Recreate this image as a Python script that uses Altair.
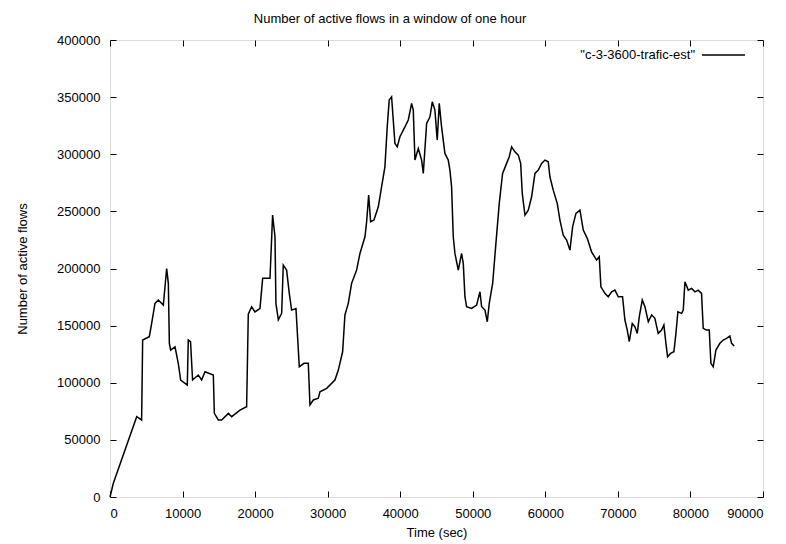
import altair as alt
import pandas as pd

chart_title = "Number of active flows in a window of one hour"
x_title = "Time (sec)"
y_title = "Number of active flows"
series_name = '"c-3-3600-trafic-est"'

x_ticks = [0, 10000, 20000, 30000, 40000, 50000, 60000, 70000, 80000, 90000]
y_ticks = [0, 50000, 100000, 150000, 200000, 250000, 300000, 350000, 400000]

time_sec = [0, 460, 3680, 4360, 4500, 5420, 5740, 6200, 6660, 7350, 7810, 8040, 8180, 8360,
            8960, 9410, 9740, 10650, 10790, 11100, 11380, 12170, 12630, 13090, 14240, 14380,
            14930, 15390, 16310, 16770, 17910, 18830, 19060, 19520, 19980, 20670, 21040,
            22050, 22410, 22740, 22870, 23200, 23660, 23880, 24340, 24710, 25030, 25630,
            26090, 26730, 27330, 27560, 28020, 28710, 28940, 29860, 31000, 31470, 32060,
            32380, 32840, 33300, 33990, 34450, 35140, 35370, 35650, 35920, 36380, 36980,
            37430, 37890, 38210, 38480, 38810, 39040, 39270, 39590, 39960, 40650, 41110,
            41570, 41800, 42030, 42490, 42950, 43180, 43640, 44100, 44420, 44780, 45100,
            45380, 45700, 46160, 46620, 46850, 47080, 47310, 47540, 48000, 48460, 48690,
            48920, 49150, 49840, 50530, 50990, 51220, 51680, 52000, 52270, 52740, 53190,
            53650, 54110, 54660, 55030, 55350, 55810, 56270, 56600, 56820, 57190, 57650,
            58110, 58570, 59030, 59490, 59950, 60400, 60630, 61090, 61640, 62010, 62470,
            62930, 63390, 63760, 64220, 64770, 65230, 65780, 66370, 67060, 67430, 67660,
            68210, 68670, 69130, 69590, 70050, 70640, 70970, 71290, 71570, 71980, 72350,
            72670, 72950, 73360, 73730, 74190, 74650, 75100, 75560, 76020, 76340, 76620,
            76850, 77260, 77720, 78000, 78270, 78780, 79010, 79240, 79700, 80160, 80620,
            81070, 81530, 81760, 82220, 82590, 82820, 83140, 83510, 84060, 84520, 84980,
            85440, 85670, 86030]

active_flows = [0, 12000, 70300, 67400, 137400, 140300, 152000, 169500, 172400, 168000, 200000,
                187000, 134500, 128600, 131500, 117000, 102400, 98000, 137400, 136000, 102400,
                106750, 102400, 109600, 106750, 73200, 67400, 67400, 73200, 70300, 76100, 79000,
                160000, 166500, 162000, 165000, 191400, 191400, 246700, 227800, 169500, 155000,
                160700, 203000, 198600, 178200, 163600, 165000, 114000, 117000, 117000, 80500,
                84900, 86400, 92100, 95100, 102400, 111100, 127100, 159300, 169500, 187000,
                198600, 213200, 227800, 240900, 264250, 240900, 242400, 254000, 271500, 289000,
                324000, 347400, 350300, 330000, 309500, 306500, 315300, 324000, 330000, 344500,
                338600, 294900, 305100, 294900, 283200, 327000, 332800, 345900, 338600, 312400,
                344500, 324000, 300700, 294900, 286100, 271500, 227800, 213200, 198600, 213200,
                204500, 175300, 166500, 165000, 168000, 179600, 166500, 163600, 153400, 169500,
                187000, 222000, 257000, 283200, 292000, 297800, 306500, 302100, 299200, 292000,
                265700, 246700, 251100, 262800, 283200, 286100, 292000, 294900, 293400, 280300,
                268600, 257000, 242400, 229250, 224900, 216100, 236500, 248200, 251100, 233600,
                226400, 214600, 207400, 210300, 184000, 178200, 175300, 179600, 181100, 175300,
                175300, 154900, 146100, 135900, 151900, 149000, 143200, 157800, 172400, 166500,
                153400, 159300, 156400, 143200, 146100, 150500, 134500, 122800, 125700, 127100,
                143200, 162100, 160700, 163600, 188400, 181100, 182600, 179600, 181100, 178200,
                147600, 146100, 146100, 117000, 114000, 128600, 134500, 137400, 138800, 140900,
                134500, 132100]

df = pd.DataFrame({"t": time_sec, "n": active_flows, "s": series_name})
leg_df = pd.DataFrame({"s": [series_name]})

FONT = "Liberation Sans"
W, H = 653, 457

xs = alt.Scale(domain=[0, 90000], nice=False, zero=False)
ys = alt.Scale(domain=[0, 400000], nice=False, zero=False)

common_axis = dict(domain=False, ticks=True, tickSize=6, tickColor="black", tickWidth=1,
                   offset=-6, grid=False, labelFont=FONT, labelFontSize=13,
                   labelColor="black", titleFont=FONT, titleFontSize=13,
                   titleColor="black", titleFontWeight="normal", format="d")

line = alt.Chart(df).mark_line(color="black", strokeWidth=1.5).encode(
    x=alt.X("t:Q", scale=xs,
            axis=alt.Axis(orient="bottom", values=x_ticks, title=x_title,
                          labelPadding=10, titlePadding=6, **common_axis)),
    y=alt.Y("n:Q", scale=ys,
            axis=alt.Axis(orient="left", values=y_ticks, title=y_title,
                          labelPadding=10, titlePadding=27, **common_axis)),
)

mirror = alt.Chart(df).mark_line(strokeOpacity=0).encode(
    x=alt.X("t:Q", scale=xs,
            axis=alt.Axis(orient="top", values=x_ticks, title=None, labels=False, **common_axis)),
    y=alt.Y("n:Q", scale=ys,
            axis=alt.Axis(orient="right", values=y_ticks, title=None, labels=False, **common_axis)),
)

leg_text = alt.Chart(leg_df).mark_text(align="right", baseline="middle", font=FONT,
                                       fontSize=13, color="black").encode(
    x=alt.value(585), y=alt.value(15), text="s:N")
leg_line = alt.Chart(leg_df).mark_rule(color="black", strokeWidth=1.3).encode(
    x=alt.value(592), x2=alt.value(635), y=alt.value(15))

chart = alt.layer(line, mirror, leg_text, leg_line).resolve_axis(
    x="independent", y="independent"
).properties(
    width=W, height=H,
    title=alt.TitleParams(chart_title, font=FONT, fontSize=13, fontWeight="normal",
                          color="black", anchor="middle", frame="bounds", offset=8),
    autosize=alt.AutoSizeParams(type="none"),
    padding={"left": 102, "top": 32, "right": 15, "bottom": 50},
).configure_view(stroke="black", strokeWidth=1).configure(background="white")

chart.save("out.html", embed_options={"renderer": "svg", "actions": False})
